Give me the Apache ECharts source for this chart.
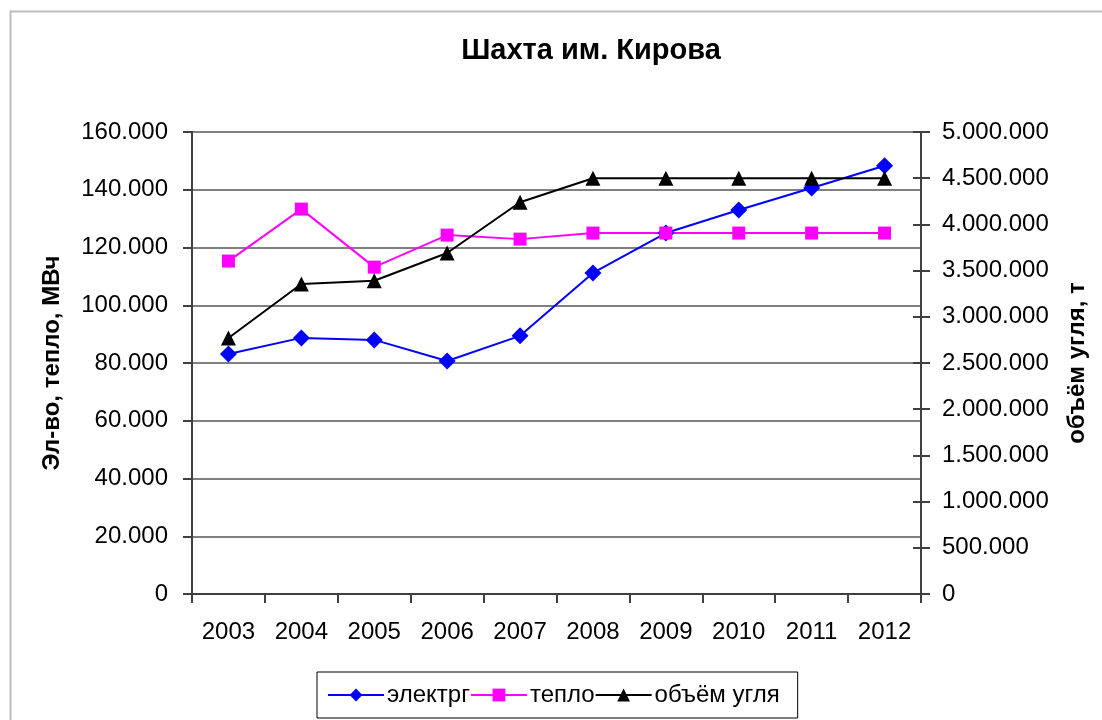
<!DOCTYPE html>
<html>
<head>
<meta charset="utf-8">
<script src="https://cdn.jsdelivr.net/npm/echarts@6/dist/echarts.min.js"></script>
<style>
html,body{margin:0;padding:0;background:#fff;}
#chart{width:1102px;height:720px;}
</style>
</head>
<body>
<div id="chart"></div>
<script>
const years = ['2003','2004','2005','2006','2007','2008','2009','2010','2011','2012'];
const elec = [83100, 88700, 88000, 80700, 89400, 111200, 125000, 133000, 140600, 148300];
const heat = [115300, 133300, 113200, 124300, 122900, 125000, 125000, 125000, 125000, 125000];
const coal = [2770000, 3355000, 3390000, 3690000, 4240000, 4500000, 4500000, 4500000, 4500000, 4500000];
const seriesNames = ['электрг', 'тепло', 'объём угля'];
const titleText = 'Шахта им. Кирова';
const leftAxisName = 'Эл-во, тепло, МВч';
const rightAxisName = 'объём угля, т';

const FONT = '"Liberation Sans", Arial, sans-serif';
function fmt(v){ return String(Math.round(v)).replace(/\B(?=(\d{3})+(?!\d))/g, '.'); }

const chart = echarts.init(document.getElementById('chart'), null, {renderer:'canvas'});
chart.setOption({
  animation: false,
  backgroundColor: '#fff',
  textStyle: {fontFamily: FONT},
  graphic: [{
    type: 'rect', left: 8, top: 9, z: -1,
    shape: {width: 1200, height: 800},
    style: {fill: 'none', stroke: '#bdbdbd', lineWidth: 2}
  }],
  title: {
    text: titleText,
    left: 586, top: 31, textAlign: 'center',
    textStyle: {fontFamily: FONT, fontSize: 29, fontWeight: 'bold', color: '#000'}
  },
  legend: {
    left: 317, top: 672,
    padding: [11, 18, 11, 10],
    itemGap: 0,
    itemWidth: 56, itemHeight: 16,
    borderColor: '#000', borderWidth: 1,
    textStyle: {fontFamily: FONT, fontSize: 24, color: '#000', padding: [0,0,0,-2]},
    data: seriesNames
  },
  grid: {left: 192, right: 181, top: 132, bottom: 126},
  xAxis: {
    type: 'category', data: years, boundaryGap: true,
    axisLine: {lineStyle: {color: '#404040', width: 2}},
    axisTick: {show: true, length: 9, lineStyle: {color: '#404040', width: 2}},
    axisLabel: {color: '#000', fontSize: 24, fontFamily: FONT, margin: 26}
  },
  yAxis: [{
    type: 'value', min: 0, max: 160000, interval: 20000, position: 'left',
    name: leftAxisName, nameLocation: 'middle', nameGap: 128, nameRotate: 90,
    nameTextStyle: {fontFamily: FONT, fontSize: 24, fontWeight: 'bold', color: '#000'},
    axisLine: {show: true, lineStyle: {color: '#404040', width: 2}},
    axisTick: {show: true, length: 9, lineStyle: {color: '#404040', width: 2}},
    axisLabel: {color: '#000', fontSize: 24, fontFamily: FONT, margin: 24, formatter: fmt},
    splitLine: {show: true, lineStyle: {color: '#808080', width: 2}}
  }, {
    type: 'value', min: 0, max: 5000000, interval: 500000, position: 'right',
    name: rightAxisName, nameLocation: 'middle', nameGap: 144, nameRotate: 90,
    nameTextStyle: {fontFamily: FONT, fontSize: 24, fontWeight: 'bold', color: '#000'},
    axisLine: {show: true, lineStyle: {color: '#404040', width: 2}},
    axisTick: {show: true, length: 9, lineStyle: {color: '#404040', width: 2}},
    axisLabel: {color: '#000', fontSize: 24, fontFamily: FONT, margin: 21, formatter: fmt},
    splitLine: {show: false}
  }, {
    type: 'value', min: 0, max: 5000000, interval: 500000, position: 'right',
    axisLine: {show: false},
    axisTick: {show: true, inside: true, length: 8, lineStyle: {color: '#404040', width: 2}},
    axisLabel: {show: false},
    splitLine: {show: false}
  }],
  series: [{
    name: seriesNames[0], type: 'line', yAxisIndex: 0, data: elec,
    symbol: 'diamond', symbolSize: 17,
    lineStyle: {color: '#0000ff', width: 2},
    itemStyle: {color: '#0000ff'}
  }, {
    name: seriesNames[1], type: 'line', yAxisIndex: 0, data: heat,
    symbol: 'rect', symbolSize: 13,
    lineStyle: {color: '#ff00ff', width: 2},
    itemStyle: {color: '#ff00ff'}
  }, {
    name: seriesNames[2], type: 'line', yAxisIndex: 1, data: coal,
    symbol: 'triangle', symbolSize: 15,
    lineStyle: {color: '#000000', width: 2},
    itemStyle: {color: '#000000'}
  }]
});
</script>
</body>
</html>
